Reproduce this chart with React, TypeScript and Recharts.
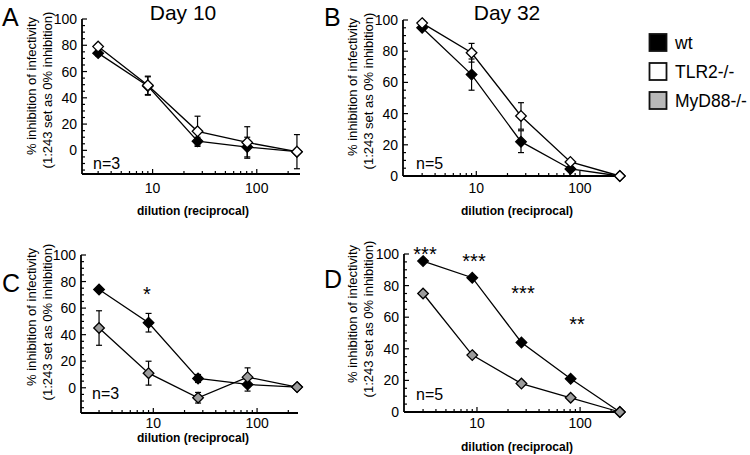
import { LineChart, Line, XAxis, YAxis, ErrorBar } from 'recharts'

const DILUTIONS = [3, 9, 27, 81, 243]
const X_TICKS = [3, 4, 5, 6, 7, 8, 9, 10, 20, 30, 40, 50, 60, 70, 80, 90, 100, 200]
const X_LABELS = [10, 100]
const Y_TICKS = [0, 5, 10, 15, 20, 25, 30, 35, 40, 45, 50, 55, 60, 65, 70, 75, 80, 85, 90, 95, 100]
const Y_TICKS_NEG = [-15, -10, -5, ...Y_TICKS]

// A: day 10, wt vs TLR2-/-
const A_WT = [74, 49, 7, 2.5, -1]
const A_WT_ERR = [2, 7, 3, 7.5, 0]
const A_TLR2 = [79, 49.5, 14.5, 6, -1]
const A_TLR2_ERR = [2, 7, 11.5, 12, 13]

// B: day 32, wt vs TLR2-/-
const B_WT = [95, 65, 22, 4.5, 0]
const B_WT_ERR = [1, 10, 7, 1, 0]
const B_TLR2 = [98, 79, 38.5, 9, 0]
const B_TLR2_ERR = [1, 6, 8.5, 1, 0]

// C: day 10, wt vs MyD88-/-
const C_WT = [74, 49, 7, 2.5, 0.5]
const C_WT_ERR = [1, 7, 3, 5, 1]
const C_MYD = [45, 11, -7.5, 8, 0.5]
const C_MYD_ERR = [13, 9, 4, 7, 1]

// D: day 32, wt vs MyD88-/-
const D_WT = [95.5, 85, 44, 21, 0]
const D_MYD = [75, 36, 18, 9, 0]

const FONT = '"Liberation Sans", Arial, Helvetica, sans-serif'
const GRAY = '#9c9c9c'

const diamond = (fill: string) => (props: any) => {
  const { cx, cy, index } = props
  if (cx == null || cy == null) return <g key={index} />
  const r = 5.3
  return (
    <path
      key={index}
      d={`M${cx},${cy - r} L${cx + r},${cy} L${cx},${cy + r} L${cx - r},${cy} Z`}
      fill={fill}
      stroke="#000"
      strokeWidth={1.3}
    />
  )
}

function YTick(props: any) {
  const { x, y, payload } = props
  const v = payload.value
  const major = v >= 0 && v % 20 === 0
  return (
    <g>
      <line x1={x} x2={x + (major ? 5 : 3)} y1={y} y2={y} stroke="#000" strokeWidth={1.2} />
      {major && (
        <text x={x - 5} y={y + 5} textAnchor="end" fontSize={14} fontFamily={FONT} fill="#000">
          {v}
        </text>
      )}
    </g>
  )
}

function XTick(props: any) {
  const { x, y, payload, labelDy } = props
  const v = payload.value
  const major = X_LABELS.includes(v)
  return (
    <g>
      <line x1={x} x2={x} y1={y} y2={y - (major ? 5 : 3)} stroke="#000" strokeWidth={1.2} />
      {major && (
        <text x={x} y={y + labelDy} textAnchor="middle" fontSize={14} fontFamily={FONT} fill="#000">
          {v}
        </text>
      )}
    </g>
  )
}

interface PanelProps {
  left: number
  top: number
  width: number
  height: number
  margin: { top: number; right: number; bottom: number; left: number }
  xDomain: [number, number]
  yDomain: [number, number]
  yTicks: number[]
  labelDy: number
  wt: number[]
  wtErr?: number[]
  ko: number[]
  koErr?: number[]
  koFill: string
}

function Panel(p: PanelProps) {
  const data = DILUTIONS.map((d, i) => ({
    dil: d,
    wt: p.wt[i],
    wtErr: p.wtErr ? p.wtErr[i] : 0,
    ko: p.ko[i],
    koErr: p.koErr ? p.koErr[i] : 0,
  }))
  return (
    <div style={{ position: 'absolute', left: p.left, top: p.top }}>
      <LineChart width={p.width} height={p.height} data={data} margin={p.margin}>
        <XAxis
          dataKey="dil"
          type="number"
          scale="log"
          domain={p.xDomain}
          ticks={X_TICKS}
          interval={0}
          height={1}
          tickSize={0}
          tickMargin={0}
          tickLine={false}
          axisLine={{ stroke: '#000', strokeWidth: 1.8 }}
          tick={(t: any) => <XTick {...t} labelDy={p.labelDy} />}
        />
        <YAxis
          type="number"
          domain={p.yDomain}
          ticks={p.yTicks}
          interval={0}
          width={1}
          tickSize={0}
          tickMargin={0}
          tickLine={false}
          axisLine={{ stroke: '#000', strokeWidth: 1.8 }}
          tick={(t: any) => <YTick {...t} />}
        />
        <Line
          dataKey="wt"
          type="linear"
          stroke="#000"
          strokeWidth={1.3}
          dot={diamond('#000')}
          activeDot={false}
          isAnimationActive={false}
        >
          {p.wtErr && <ErrorBar dataKey="wtErr" direction="y" width={3} stroke="#000" strokeWidth={1.2} />}
        </Line>
        <Line
          dataKey="ko"
          type="linear"
          stroke="#000"
          strokeWidth={1.3}
          dot={diamond(p.koFill)}
          activeDot={false}
          isAnimationActive={false}
        >
          {p.koErr && <ErrorBar dataKey="koErr" direction="y" width={3} stroke="#000" strokeWidth={1.2} />}
        </Line>
      </LineChart>
    </div>
  )
}

function YTitle({ x, c1, c2 }: { x: number; c1: number; c2: number }) {
  return (
    <g fontSize={13} fontFamily={FONT} fill="#000" textAnchor="middle">
      <text transform={`translate(${x},${c1}) rotate(-90)`}>% inhibition of infectivity</text>
      <text transform={`translate(${x + 16},${c2}) rotate(-90)`}>(1:243 set as 0% inhibition)</text>
    </g>
  )
}

function XTitle({ x, y }: { x: number; y: number }) {
  return (
    <text x={x} y={y} textAnchor="middle" fontSize={12} fontWeight="bold" fontFamily={FONT} fill="#000">
      dilution (reciprocal)
    </text>
  )
}

const LEGEND = [
  { name: 'wt', fill: '#000' },
  { name: 'TLR2-/-', fill: '#fff' },
  { name: 'MyD88-/-', fill: '#b8b8b8' },
]

export default function App() {
  return (
    <div style={{ position: 'absolute', left: 0, top: 0, width: 750, height: 455, background: '#fff', overflow: 'hidden' }}>
      <Panel
        left={0} top={0} width={320} height={220}
        margin={{ top: 19, right: 20, bottom: 45, left: 81 }}
        xDomain={[2.1, 260]} yDomain={[-18, 100]} yTicks={Y_TICKS_NEG} labelDy={19}
        wt={A_WT} wtErr={A_WT_ERR} ko={A_TLR2} koErr={A_TLR2_ERR} koFill="#fff"
      />
      <Panel
        left={320} top={0} width={320} height={220}
        margin={{ top: 20, right: 18, bottom: 43, left: 82 }}
        xDomain={[1.96, 255]} yDomain={[0, 100]} yTicks={Y_TICKS} labelDy={17}
        wt={B_WT} wtErr={B_WT_ERR} ko={B_TLR2} koErr={B_TLR2_ERR} koFill="#fff"
      />
      <Panel
        left={0} top={220} width={320} height={235}
        margin={{ top: 35, right: 22, bottom: 41, left: 80 }}
        xDomain={[2.01, 248]} yDomain={[-19, 100]} yTicks={Y_TICKS_NEG} labelDy={15}
        wt={C_WT} wtErr={C_WT_ERR} ko={C_MYD} koErr={C_MYD_ERR} koFill={GRAY}
      />
      <Panel
        left={320} top={220} width={320} height={235}
        margin={{ top: 34, right: 18, bottom: 42, left: 83 }}
        xDomain={[1.96, 255]} yDomain={[0, 100]} yTicks={Y_TICKS} labelDy={16}
        wt={D_WT} ko={D_MYD} koFill={GRAY}
      />
      <svg width={750} height={455} style={{ position: 'absolute', left: 0, top: 0, pointerEvents: 'none' }}>
        <g fontFamily={FONT} fill="#000">
          <text x={2} y={26} fontSize={25}>A</text>
          <text x={324} y={26} fontSize={25}>B</text>
          <text x={2} y={292} fontSize={25}>C</text>
          <text x={324} y={288} fontSize={25}>D</text>
          <text x={183} y={20} fontSize={21} textAnchor="middle">Day 10</text>
          <text x={507} y={20} fontSize={21} textAnchor="middle">Day 32</text>
          <text x={93} y={169} fontSize={16}>n=3</text>
          <text x={416} y={169} fontSize={16}>n=5</text>
          <text x={92} y={399} fontSize={16}>n=3</text>
          <text x={416} y={400} fontSize={16}>n=5</text>
          <text x={147} y={301} fontSize={20} textAnchor="middle">*</text>
          <text x={425} y={261} fontSize={20} textAnchor="middle">***</text>
          <text x={474} y={268} fontSize={20} textAnchor="middle">***</text>
          <text x={523} y={300} fontSize={20} textAnchor="middle">***</text>
          <text x={577} y={331} fontSize={20} textAnchor="middle">**</text>
        </g>
        <YTitle x={36} c1={86} c2={90} />
        <YTitle x={357} c1={87} c2={91} />
        <YTitle x={36} c1={317} c2={322} />
        <YTitle x={357} c1={314} c2={319} />
        <XTitle x={193} y={215} />
        <XTitle x={517} y={215} />
        <XTitle x={193} y={442} />
        <XTitle x={517} y={451} />
        {LEGEND.map((l, i) => (
          <g key={l.name}>
            <rect x={649.5} y={34 + i * 29} width={17} height={17} fill={l.fill} stroke="#111" strokeWidth={1.8} />
            <text x={675} y={48.5 + i * 29} fontSize={17.5} fontFamily={FONT} fill="#000">{l.name}</text>
          </g>
        ))}
      </svg>
    </div>
  )
}
